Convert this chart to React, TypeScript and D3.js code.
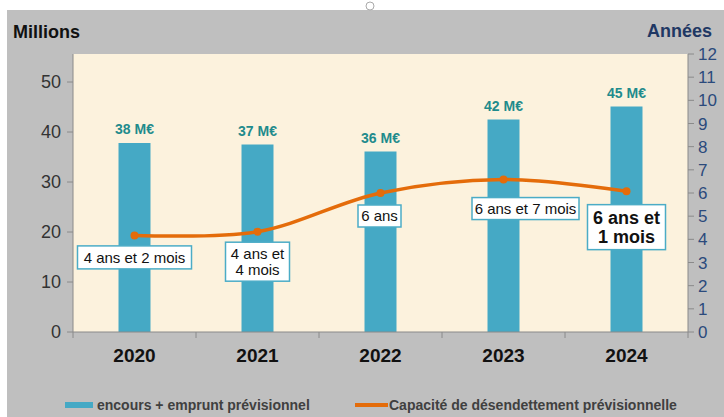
import React, { useRef, useEffect } from "react";
import * as d3 from "d3";

// data
const years = ["2020", "2021", "2022", "2023", "2024"];
const encours = [37.8, 37.5, 36.1, 42.5, 45.1];
const encoursLabels = ["38 M€", "37 M€", "36 M€", "42 M€", "45 M€"];
const capacite = [4.17, 4.33, 6.0, 6.58, 6.08];
const capaciteLabels = [
  ["4 ans et 2 mois"],
  ["4 ans et", "4 mois"],
  ["6 ans"],
  ["6 ans et 7 mois"],
  ["6 ans et", "1 mois"],
];
const leftTicks = [0, 10, 20, 30, 40, 50];
const rightTicks = [0, 1, 2, 3, 4, 5, 6, 7, 8, 9, 10, 11, 12];

// label box placement relative to the point (dx, dy, width, height, font size, bold)
const labelLayout = [
  { dx: 0, dy: 22, w: 114, h: 23, size: 15, bold: false },
  { dx: 0, dy: 30, w: 64, h: 39, size: 15, bold: false },
  { dx: -1, dy: 23, w: 43, h: 22, size: 15, bold: false },
  { dx: 22, dy: 29, w: 107, h: 22, size: 15, bold: false },
  { dx: 0, dy: 36, w: 78, h: 45, size: 18, bold: true },
];

const FONT = "Arial, 'Liberation Sans', sans-serif";

export default function App() {
  const svgRef = useRef<SVGSVGElement>(null);

  useEffect(() => {
    const svg = d3.select(svgRef.current);
    svg.selectAll("*").remove();

    const margin = { top: 54, right: 36, bottom: 85, left: 73 };
    const W = 724;
    const H = 417;
    const width = W - margin.left - margin.right;
    const height = H - margin.top - margin.bottom;

    // background
    svg.append("rect").attr("width", W).attr("height", H).attr("fill", "#ffffff");
    svg
      .append("rect")
      .attr("x", 7)
      .attr("y", 10)
      .attr("width", W - 7)
      .attr("height", H - 10)
      .attr("fill", "#bfbfbf");
    svg
      .append("circle")
      .attr("cx", 370)
      .attr("cy", 6)
      .attr("r", 4)
      .attr("fill", "#fff")
      .attr("stroke", "#aaa");

    const g = svg.append("g").attr("transform", `translate(${margin.left},${margin.top})`);

    g.append("rect").attr("width", width).attr("height", height).attr("fill", "#fcf2dd");

    const x = d3.scaleBand().domain(years).range([0, width]).paddingInner(0.74).paddingOuter(0.37);
    const yL = d3.scaleLinear().domain([0, 55.6]).range([height, 0]);
    const yR = d3.scaleLinear().domain([0, 12]).range([height, 0]);

    // bars
    g.selectAll(".bar")
      .data(encours)
      .enter()
      .append("rect")
      .attr("x", (d, i) => x(years[i])!)
      .attr("y", (d) => yL(d))
      .attr("width", x.bandwidth())
      .attr("height", (d) => height - yL(d))
      .attr("fill", "#45a9c5");

    g.selectAll(".barlabel")
      .data(encours)
      .enter()
      .append("text")
      .attr("x", (d, i) => x(years[i])! + x.bandwidth() / 2)
      .attr("y", (d) => yL(d) - 9)
      .attr("text-anchor", "middle")
      .attr("font-family", FONT)
      .attr("font-weight", "bold")
      .attr("font-size", 14)
      .attr("fill", "#1f8b8c")
      .text((d, i) => encoursLabels[i]);

    // axes
    const axisColor = "#8a8a8a";
    g.append("line").attr("x1", 0).attr("x2", 0).attr("y1", 0).attr("y2", height).attr("stroke", axisColor);
    g.append("line").attr("x1", width).attr("x2", width).attr("y1", 0).attr("y2", height).attr("stroke", axisColor);
    g.append("line").attr("x1", 0).attr("x2", width).attr("y1", height).attr("y2", height).attr("stroke", axisColor);

    leftTicks.forEach((t) => {
      g.append("line").attr("x1", -6).attr("x2", 0).attr("y1", yL(t)).attr("y2", yL(t)).attr("stroke", axisColor);
      g.append("text")
        .attr("x", -12)
        .attr("y", yL(t))
        .attr("dy", "0.36em")
        .attr("text-anchor", "end")
        .attr("font-family", FONT)
        .attr("font-size", 18)
        .attr("fill", "#333")
        .text(t);
    });

    rightTicks.forEach((t) => {
      g.append("line").attr("x1", width).attr("x2", width + 6).attr("y1", yR(t)).attr("y2", yR(t)).attr("stroke", axisColor);
      g.append("text")
        .attr("x", width + 10)
        .attr("y", yR(t))
        .attr("dy", "0.36em")
        .attr("font-family", FONT)
        .attr("font-size", 17)
        .attr("fill", "#2b4a7c")
        .text(t);
    });

    const step = x.step();
    d3.range(years.length + 1).forEach((i) => {
      const xx = i * step;
      g.append("line").attr("x1", xx).attr("x2", xx).attr("y1", height).attr("y2", height + 6).attr("stroke", axisColor);
    });

    years.forEach((yr) => {
      g.append("text")
        .attr("x", x(yr)! + x.bandwidth() / 2)
        .attr("y", height + 30)
        .attr("text-anchor", "middle")
        .attr("font-family", FONT)
        .attr("font-weight", "bold")
        .attr("font-size", 19)
        .attr("fill", "#111")
        .text(yr);
    });

    // axis titles
    svg.append("text")
      .attr("x", 13)
      .attr("y", 38)
      .attr("font-family", FONT)
      .attr("font-weight", "bold")
      .attr("font-size", 18)
      .attr("fill", "#111")
      .text("Millions");
    svg.append("text")
      .attr("x", 712)
      .attr("y", 37)
      .attr("text-anchor", "end")
      .attr("font-family", FONT)
      .attr("font-weight", "bold")
      .attr("font-size", 18)
      .attr("fill", "#1f3864")
      .text("Années");

    // line
    const cx = (i: number) => x(years[i])! + x.bandwidth() / 2;
    const line = d3
      .line<number>()
      .x((d, i) => cx(i))
      .y((d) => yR(d))
      .curve(d3.curveCatmullRom.alpha(0.5));

    g.append("path")
      .datum(capacite)
      .attr("d", line)
      .attr("fill", "none")
      .attr("stroke", "#e46c0a")
      .attr("stroke-width", 3.5);

    g.selectAll(".pt")
      .data(capacite)
      .enter()
      .append("circle")
      .attr("cx", (d, i) => cx(i))
      .attr("cy", (d) => yR(d))
      .attr("r", 4)
      .attr("fill", "#e46c0a");

    // data label boxes
    capacite.forEach((v, i) => {
      const L = labelLayout[i];
      const bx = cx(i) + L.dx;
      const by = yR(v) + L.dy;
      g.append("rect")
        .attr("x", bx - L.w / 2)
        .attr("y", by - L.h / 2)
        .attr("width", L.w)
        .attr("height", L.h)
        .attr("fill", "#ffffff")
        .attr("stroke", "#4bacc6")
        .attr("stroke-width", 1.5);
      const lines = capaciteLabels[i];
      const lh = L.size * 1.05;
      lines.forEach((s, j) => {
        g.append("text")
          .attr("x", bx)
          .attr("y", by + (j - (lines.length - 1) / 2) * lh)
          .attr("dy", "0.36em")
          .attr("text-anchor", "middle")
          .attr("font-family", FONT)
          .attr("font-weight", L.bold ? "bold" : "normal")
          .attr("font-size", L.size)
          .attr("fill", "#111")
          .text(s);
      });
    });

    // legend
    svg.append("rect").attr("x", 65).attr("y", 402).attr("width", 28).attr("height", 6).attr("fill", "#45a9c5");
    svg.append("text")
      .attr("x", 97)
      .attr("y", 410)
      .attr("font-family", FONT)
      .attr("font-weight", "bold")
      .attr("font-size", 14)
      .attr("fill", "#404040")
      .text("encours + emprunt prévisionnel");
    svg.append("line")
      .attr("x1", 355)
      .attr("x2", 388)
      .attr("y1", 405)
      .attr("y2", 405)
      .attr("stroke", "#e46c0a")
      .attr("stroke-width", 4);
    svg.append("text")
      .attr("x", 389)
      .attr("y", 410)
      .attr("font-family", FONT)
      .attr("font-weight", "bold")
      .attr("font-size", 14)
      .attr("fill", "#404040")
      .text("Capacité de désendettement prévisionnelle");
  }, []);

  return (
    <svg
      ref={svgRef}
      width={724}
      height={417}
      style={{ position: "absolute", left: 0, top: 0, display: "block" }}
    />
  );
}
